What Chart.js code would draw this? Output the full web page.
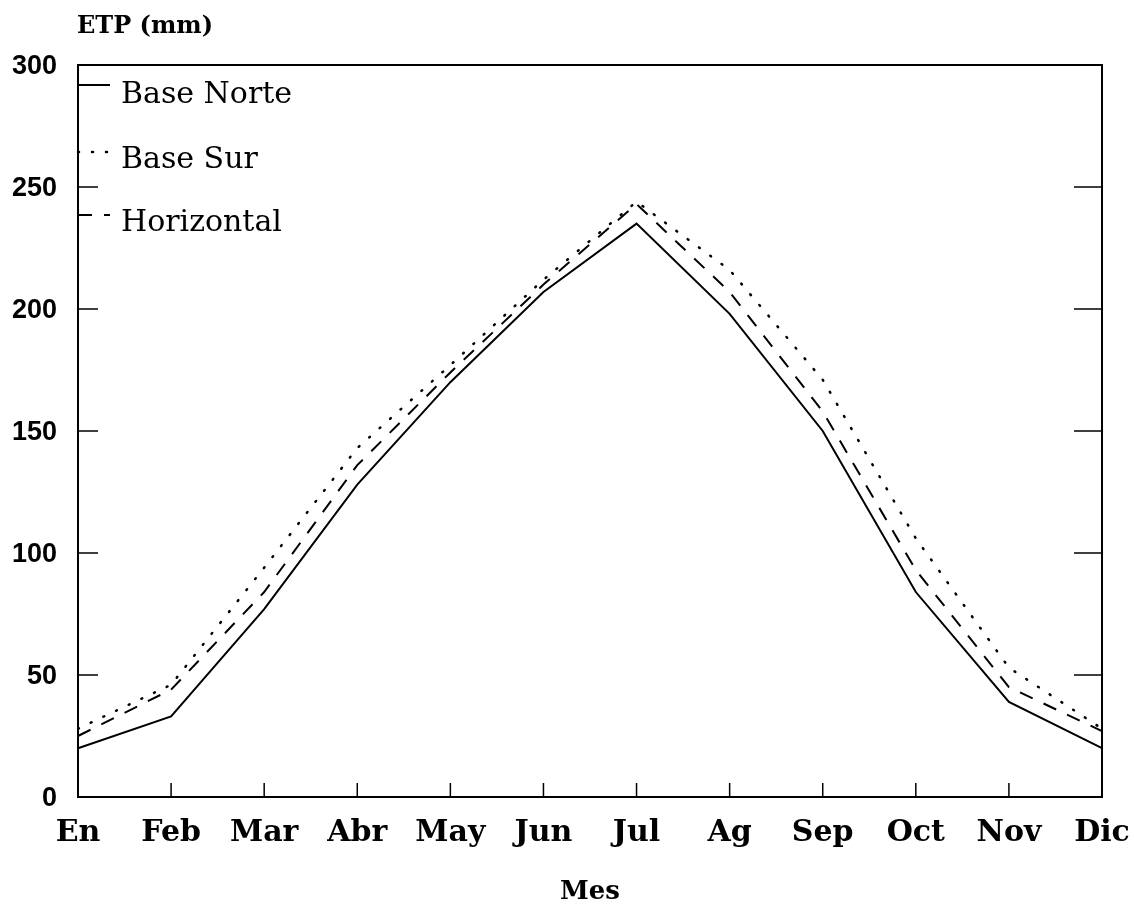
<!DOCTYPE html>
<html>
<head>
<meta charset="utf-8">
<script src="https://cdn.jsdelivr.net/npm/chart.js@4"></script>
<style>
  html, body { margin: 0; padding: 0; background: #fff; }
  #wrap { width: 1134px; height: 906px; position: relative; }
</style>
</head>
<body>
<div id="wrap"><canvas id="c"></canvas></div>
<script>
// ---- data ----
const months = ['En', 'Feb', 'Mar', 'Abr', 'May', 'Jun', 'Jul', 'Ag', 'Sep', 'Oct', 'Nov', 'Dic'];
const baseNorte  = [20, 33, 77, 128, 170, 207, 235, 198, 150, 84, 39, 20];
const baseSur    = [28, 46, 94, 143, 177, 212, 244, 216, 171, 106, 53, 28];
const horizontal = [25, 44, 84, 136, 174, 210, 243, 207, 158, 93, 45, 27];
const seriesNames = ['Base Norte', 'Base Sur', 'Horizontal'];
const yTitle = 'ETP (mm)';
const xTitle = 'Mes';
const yMin = 0, yMax = 300, yStep = 50;

const INK = '#000';

const framePlugin = {
  id: 'frameTicksLegend',
  beforeDraw(chart) {
    const ctx = chart.ctx;
    ctx.save();
    ctx.fillStyle = '#fff';
    ctx.fillRect(0, 0, chart.width, chart.height);
    ctx.restore();
  },
  afterDraw(chart) {
    const ctx = chart.ctx;
    const a = chart.chartArea;
    const xs = chart.scales.x, ys = chart.scales.y;
    ctx.save();
    ctx.strokeStyle = INK;
    ctx.lineWidth = 2;
    ctx.setLineDash([]);
    ctx.strokeRect(a.left, a.top, a.right - a.left, a.bottom - a.top);
    // inward ticks on left and right axes
    ctx.lineWidth = 1.5;
    ys.ticks.forEach(t => {
      const y = ys.getPixelForValue(t.value);
      ctx.beginPath();
      ctx.moveTo(a.left, y); ctx.lineTo(a.left + 20, y);
      ctx.moveTo(a.right, y); ctx.lineTo(a.right - 28, y);
      ctx.stroke();
    });
    // inward ticks on bottom axis
    xs.ticks.forEach((t, i) => {
      const x = xs.getPixelForTick(i);
      ctx.beginPath();
      ctx.moveTo(x, a.bottom); ctx.lineTo(x, a.bottom - 14);
      ctx.stroke();
    });
    // y title
    ctx.fillStyle = INK;
    ctx.font = 'bold 24px "DejaVu Serif"';
    ctx.textAlign = 'left';
    ctx.textBaseline = 'alphabetic';
    ctx.fillText(yTitle, a.left - 1, 33);
    // legend inside plot
    const sampleY = [20, 87, 150];
    const textY = [38, 103, 166];
    chart.data.datasets.forEach((ds, i) => {
      ctx.strokeStyle = INK;
      ctx.lineWidth = ds.borderWidth;
      ctx.lineCap = ds.borderCapStyle || 'butt';
      ctx.setLineDash(ds.borderDash || []);
      ctx.beginPath();
      ctx.moveTo(a.left, a.top + sampleY[i]);
      ctx.lineTo(a.left + 32, a.top + sampleY[i]);
      ctx.stroke();
      ctx.setLineDash([]);
      ctx.font = '30px "DejaVu Serif"';
      ctx.fillStyle = INK;
      ctx.fillText(ds.label, a.left + 43, a.top + textY[i]);
    });
    ctx.restore();
  }
};

new Chart(document.getElementById('c'), {
  type: 'line',
  data: {
    labels: months,
    datasets: [
      { label: seriesNames[0], data: baseNorte, borderColor: INK, borderWidth: 2, borderDash: [], pointRadius: 0, tension: 0, fill: false },
      { label: seriesNames[1], data: baseSur, borderColor: INK, borderWidth: 2.5, borderDash: [1, 13], borderCapStyle: 'round', pointRadius: 0, tension: 0, fill: false },
      { label: seriesNames[2], data: horizontal, borderColor: INK, borderWidth: 2, borderDash: [14, 12], pointRadius: 0, tension: 0, fill: false }
    ]
  },
  options: {
    responsive: true,
    maintainAspectRatio: false,
    animation: false,
    layout: { padding: { top: 65, right: 32, bottom: 0, left: 0 } },
    plugins: { legend: { display: false }, tooltip: { enabled: false } },
    scales: {
      x: {
        type: 'category',
        offset: false,
        grid: { display: false, drawTicks: false },
        border: { display: false },
        ticks: {
          color: INK, autoSkip: false, maxRotation: 0, minRotation: 0, padding: 18,
          font: { family: '"DejaVu Serif"', size: 30, weight: 'bold' }
        },
        title: {
          display: true, text: xTitle, color: INK,
          font: { family: '"DejaVu Serif"', size: 26, weight: 'bold', lineHeight: 1.05 },
          padding: { top: 0, bottom: 0 }
        },
        afterFit(s) { s.height = 109; s.paddingLeft = 0; s.paddingRight = 0; }
      },
      y: {
        min: yMin, max: yMax,
        grid: { display: false, drawTicks: false },
        border: { display: false },
        ticks: {
          stepSize: yStep, color: INK, padding: 21, labelOffset: 2,
          font: { family: '"Liberation Sans"', size: 27, weight: 'bold' }
        },
        afterFit(s) { s.width = 78; s.paddingTop = 0; s.paddingBottom = 0; }
      }
    }
  },
  plugins: [framePlugin]
});
</script>
</body>
</html>
